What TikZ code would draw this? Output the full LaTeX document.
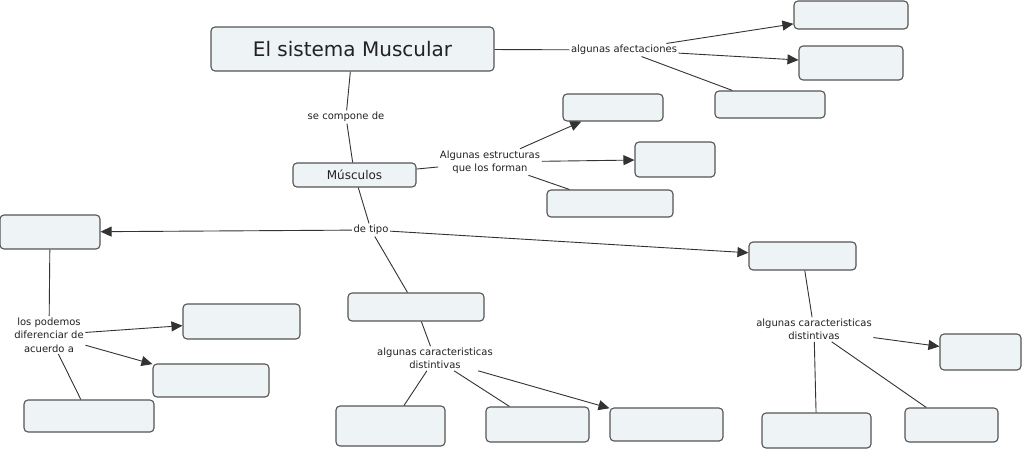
\documentclass[tikz,border=0pt]{standalone}
\usepackage{fontspec}
\setmainfont{DejaVu Sans}
\usetikzlibrary{arrows.meta}
\definecolor{boxfill}{HTML}{EEF3F5}
\definecolor{boxdraw}{HTML}{555555}
\definecolor{linec}{HTML}{333333}
\definecolor{txt}{HTML}{222222}
\begin{document}
\begin{tikzpicture}[x=1pt,y=-1pt,
  box/.style={draw=boxdraw,fill=boxfill,rounded corners=4pt,line width=1.1pt,inner sep=0pt,text=txt},
  lab/.style={inner sep=1.5pt,align=center,text=txt,font=\fontsize{10}{13.5}\selectfont},
  conn/.style={draw=linec,line width=0.9pt},
  arr/.style={conn,-{Triangle[length=11pt,width=10pt]}}]
\useasboundingbox[fill=white] (0,0) rectangle (1024,450);
% boxes
\node[box,minimum width=283pt,minimum height=44pt,font=\fontsize{20}{24}\selectfont] (title) at (352.5,49) {El sistema Muscular};
\node[box,minimum width=114pt,minimum height=28pt] (A1) at (851,15) {};
\node[box,minimum width=104pt,minimum height=34pt] (A2) at (851,63) {};
\node[box,minimum width=110pt,minimum height=27pt] (A3) at (770,104.5) {};
\node[box,minimum width=123pt,minimum height=24pt,font=\fontsize{12}{14}\selectfont] (musc) at (354.5,175) {Músculos};
\node[box,minimum width=100pt,minimum height=27pt] (S1) at (613,107.5) {};
\node[box,minimum width=80pt,minimum height=35pt] (S2) at (675,159.5) {};
\node[box,minimum width=126pt,minimum height=27pt] (S3) at (610,203.5) {};
\node[box,minimum width=100pt,minimum height=34pt] (T1) at (50,232) {};
\node[box,minimum width=136pt,minimum height=28pt] (T2) at (416,307) {};
\node[box,minimum width=107pt,minimum height=28pt] (T3) at (802.5,256) {};
\node[box,minimum width=117pt,minimum height=35pt] (L1) at (241.5,321.5) {};
\node[box,minimum width=116pt,minimum height=33pt] (L2) at (211,380.5) {};
\node[box,minimum width=130pt,minimum height=32pt] (L3) at (89,416) {};
\node[box,minimum width=109pt,minimum height=40pt] (M1) at (390.5,426) {};
\node[box,minimum width=103pt,minimum height=35pt] (M2) at (537.5,424.5) {};
\node[box,minimum width=113pt,minimum height=33pt] (M3) at (666.5,424.5) {};
\node[box,minimum width=109pt,minimum height=35pt] (R1) at (816.5,430.5) {};
\node[box,minimum width=93pt,minimum height=34pt] (R2) at (951.5,425) {};
\node[box,minimum width=81pt,minimum height=36pt] (R3) at (980.5,352) {};
% labels
\node[lab] (afe) at (624,50) {algunas afectaciones};
\node[lab] (comp) at (346,117) {se compone de};
\node[lab] (estr) at (490,162) {Algunas estructuras\\que los forman};
\node[lab] (tipo) at (371,230) {de tipo};
\node[lab] (pod) at (49,335) {los podemos\\diferenciar de\\acuerdo a};
\node[lab] (carM) at (435,358.5) {algunas caracteristicas\\distintivas};
\node[lab] (carR) at (814,329.5) {algunas caracteristicas\\distintivas};
% connectors
\draw[conn] (title) -- (afe);
\draw[arr] (afe) -- (A1);
\draw[arr] (afe) -- (A2);
\draw[conn] (afe) -- (A3);
\draw[conn] (title) -- (comp);
\draw[conn] (comp) -- (musc);
\draw[conn] (musc) -- (estr);
\draw[arr] (estr) -- (S1);
\draw[arr] (estr) -- (S2);
\draw[conn] (estr) -- (S3);
\draw[conn] (musc) -- (tipo);
\draw[arr] (tipo) -- (T1);
\draw[arr] (tipo) -- (T3);
\draw[conn] (tipo) -- (T2);
\draw[conn] (T1) -- (pod);
\draw[arr] (pod) -- (L1);
\draw[arr] (pod) -- (L2);
\draw[conn] (pod) -- (L3);
\draw[conn] (T2) -- (carM);
\draw[arr] (carM) -- (M3);
\draw[conn] (carM) -- (M1);
\draw[conn] (carM) -- (M2);
\draw[conn] (T3) -- (carR);
\draw[arr] (carR) -- (R3);
\draw[conn] (carR) -- (R1);
\draw[conn] (carR) -- (R2);
\end{tikzpicture}
\end{document}
